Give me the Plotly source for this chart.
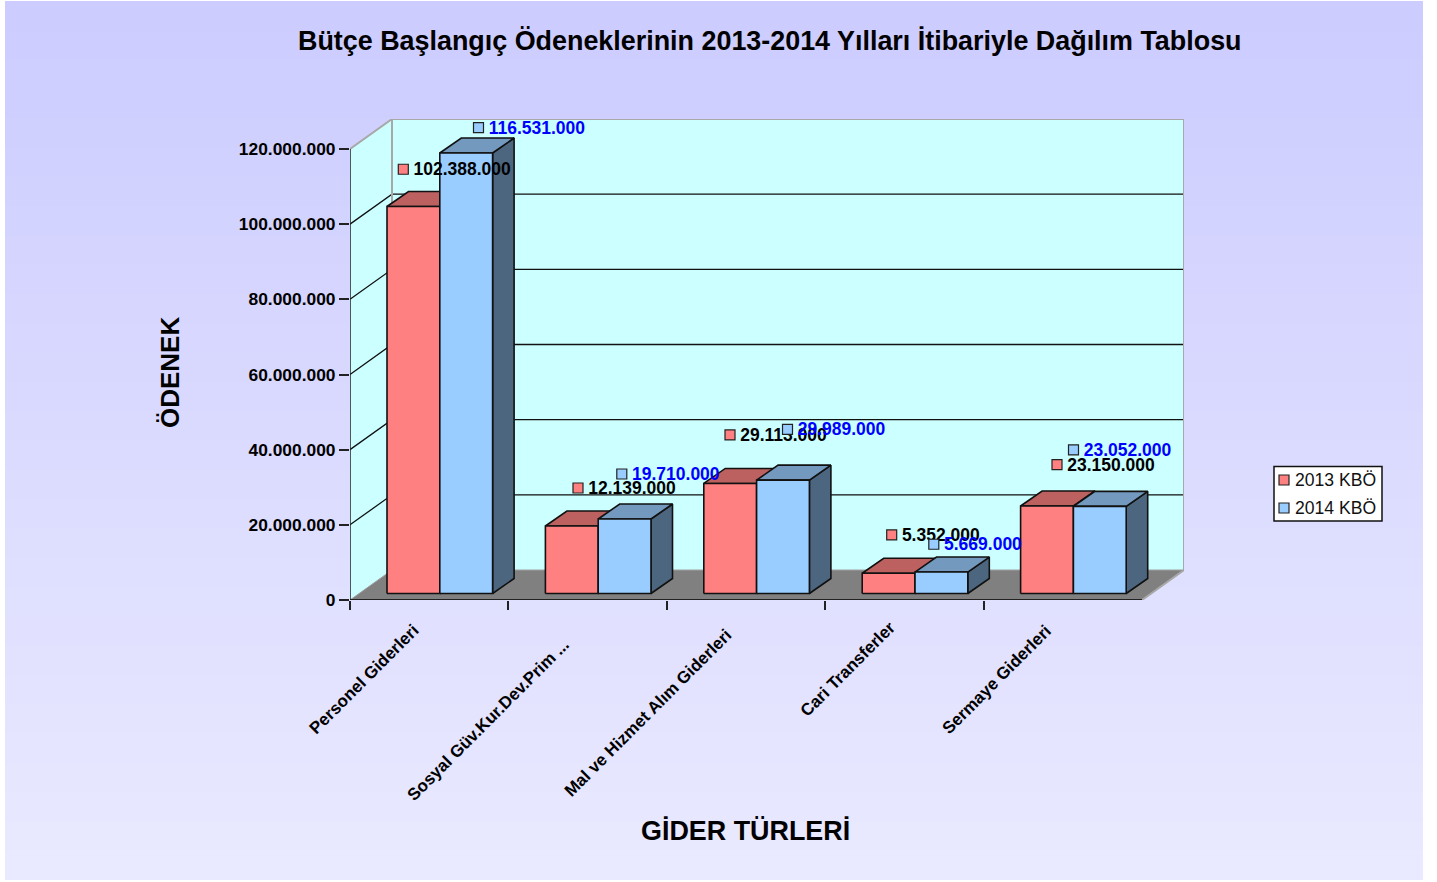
import plotly.graph_objects as go

# ---------- data ----------
CATEGORIES = ["Personel Giderleri", "Sosyal Güv.Kur.Dev.Prim ...", "Mal ve Hizmet Alım Giderleri",
              "Cari Transferler", "Sermaye Giderleri"]
VALUES_2013 = [102388000, 17860000, 29113000, 5352000, 23150000]
VALUES_2014 = [116531000, 19710000, 29989000, 5669000, 23052000]
LABELS_2013 = ["102.388.000", "12.139.000", "29.113.000", "5.352.000", "23.150.000"]
LABELS_2014 = ["116.531.000", "19.710.000", "29.989.000", "5.669.000", "23.052.000"]
Y_TICKS = [0, 20000000, 40000000, 60000000, 80000000, 100000000, 120000000]
Y_TICK_LABELS = ["0", "20.000.000", "40.000.000", "60.000.000", "80.000.000", "100.000.000", "120.000.000"]
SERIES_NAMES = ["2013 KBÖ", "2014 KBÖ"]

# ---------- layout constants (pixels) ----------
W, H = 1437, 882
PLOT_L, PLOT_R, PLOT_T, PLOT_B = 350, 1184, 119, 600
CAT_PX = 158.4
PX_PER_VALUE = 451 / 120e6
WALL_DX, WALL_DY = 42, 30
BAR_LEFT, BAR_W, BAR_DX, BAR_DY, BAR_BASE = 37, 52.8, 21.5, 15, 6.5
BAR_SCALE = 3.78 / (PX_PER_VALUE * 1e6)
# data-label offset from the top-left front corner of each bar
OFFS_2013 = [(16.3, -37.2), (32.6, -38), (26.2, -48.5), (29.5, -38.3), (36.4, -41.3)]
OFFS_2014 = [(38.7, -25.3), (23.6, -45), (30.9, -50.8), (18.8, -27.8), (0.1, -56.4)]
LABEL_TEXT_DX, LABEL_TEXT_DY = 10.2, 1.5
# centre of each rotated category label: x offset from the category centre, y from the page top
CAT_LABEL_DX = [-65.2, -100.1, -98.5, -56.9, -65.8]
CAT_LABEL_Y = [679.5, 720, 713, 669.5, 679.5]

FONT = "Liberation Sans"
INK = "#111111"
N = len(CATEGORIES)
ux = lambda px: px / CAT_PX            # pixels -> category units
uy = lambda px: px / PX_PER_VALUE      # pixels -> value units
D_X, D_Y = ux(WALL_DX), uy(WALL_DY)
TOP = Y_TICKS[-1]
px_x = lambda px: px / W
px_y = lambda px: 1 - px / H

fig = go.Figure()


def poly(xs, ys, fill, line=None, width=0, name=None):
    fig.add_trace(go.Scatter(x=xs, y=ys, mode="lines", fill="toself", fillcolor=fill,
                             line=dict(color=line or fill, width=width), hoverinfo="skip",
                             showlegend=False, name=name, cliponaxis=False))


def lines(xs, ys, color, width):
    fig.add_trace(go.Scatter(x=xs, y=ys, mode="lines", line=dict(color=color, width=width),
                             hoverinfo="skip", showlegend=False, cliponaxis=False))


# walls + floor
poly([D_X, N + D_X, N + D_X, D_X, D_X], [D_Y, D_Y, TOP + D_Y, TOP + D_Y, D_Y], "#ccffff")
poly([0, D_X, D_X, 0, 0], [0, D_Y, TOP + D_Y, TOP, 0], "#ccffff")
poly([0, N, N + D_X, D_X, 0], [0, 0, D_Y, D_Y, 0], "#808080")

# gridlines on back and left wall
gx, gy = [], []
for t in Y_TICKS[1:-1]:
    gx += [0, D_X, N + D_X, None]
    gy += [t, t + D_Y, t + D_Y, None]
lines(gx, gy, "#111111", 1.3)
# wall border
lines([0, D_X, N + D_X, N + D_X, N], [TOP, TOP + D_Y, TOP + D_Y, D_Y, 0], "#a8a8a8", 2)
lines([D_X, D_X], [D_Y, TOP + D_Y], "#a8a8a8", 2)
lines([0, D_X, N + D_X], [0, D_Y, D_Y], "#a0a0a0", 1)


def bars(values, slot, front, top, side, name):
    fx, fy, tx, ty, sx, sy = [], [], [], [], [], []
    bw, bdx, bdy = ux(BAR_W), ux(BAR_DX), uy(BAR_DY)
    base = uy(BAR_BASE)
    for i, v in enumerate(values):
        x0 = i + ux(BAR_LEFT) + slot * bw
        x1 = x0 + bw
        y1 = base + v * BAR_SCALE
        fx += [x0, x1, x1, x0, x0, None]
        fy += [base, base, y1, y1, base, None]
        tx += [x0, x1, x1 + bdx, x0 + bdx, x0, None]
        ty += [y1, y1, y1 + bdy, y1 + bdy, y1, None]
        sx += [x1, x1 + bdx, x1 + bdx, x1, x1, None]
        sy += [base, base + bdy, y1 + bdy, y1, base, None]
    poly(sx, sy, side, INK, 1.6, name)
    poly(tx, ty, top, INK, 1.6, name)
    poly(fx, fy, front, INK, 1.6, name)


bars(VALUES_2013, 0, "#ff8080", "#bd6060", "#bd6060", SERIES_NAMES[0])
bars(VALUES_2014, 1, "#99ccff", "#7399bf", "#4d6680", SERIES_NAMES[1])

# axis lines
lines([0, 0], [0, TOP], "#222222", 1.5)
lines([0, N], [0, 0], "#222222", 2)


def data_labels(values, labels, slot, offs, fill, color, name):
    xs, ys = [], []
    for i, v in enumerate(values):
        xs.append(i + ux(BAR_LEFT + slot * BAR_W + offs[i][0]))
        ys.append(uy(BAR_BASE) + v * BAR_SCALE - uy(offs[i][1]))
    fig.add_trace(go.Scatter(x=xs, y=ys, mode="markers",
                             marker=dict(symbol="square", size=10, color=fill, line=dict(color="#222222", width=1.2)),
                             showlegend=False, name=name, cliponaxis=False))
    fig.add_trace(go.Scatter(x=[x + ux(LABEL_TEXT_DX) for x in xs], y=[y - uy(LABEL_TEXT_DY) for y in ys],
                             mode="text", text=labels, textposition="middle right",
                             textfont=dict(family=FONT, size=17.5, color=color, weight="bold"),
                             showlegend=False, name=name, cliponaxis=False))


data_labels(VALUES_2013, LABELS_2013, 0, OFFS_2013, "#ff8080", "#000000", SERIES_NAMES[0])
data_labels(VALUES_2014, LABELS_2014, 1, OFFS_2014, "#99ccff", "#0000ff", SERIES_NAMES[1])

# page gradient: each band runs to the page bottom so no seams appear between bands
shapes = []
BG_L, BG_R, BG_T, BG_B = 5, 1423, 1, 880
STEPS = 30
for k in range(STEPS):
    a = BG_T + (BG_B - BG_T) * k / STEPS
    c = round(204 + 29 * (k + 0.5) / STEPS)
    shapes.append(dict(type="rect", xref="paper", yref="paper", layer="below",
                       x0=px_x(BG_L), x1=px_x(BG_R), y0=px_y(a), y1=px_y(BG_B),
                       fillcolor=f"rgb({c},{c},255)", line=dict(width=0)))

# legend box
shapes.append(dict(type="rect", xref="paper", yref="paper", x0=px_x(1274), x1=px_x(1382), y0=px_y(466.5), y1=px_y(521),
                   fillcolor="white", line=dict(color="#111111", width=1.5)))
annots = []
for nm, fill, cy in zip(SERIES_NAMES, ["#ff8080", "#99ccff"], [480, 508]):
    shapes.append(dict(type="rect", xref="paper", yref="paper", x0=px_x(1279), x1=px_x(1289),
                       y0=px_y(cy - 5), y1=px_y(cy + 5), fillcolor=fill, line=dict(color="#222222", width=1.2)))
    annots.append(dict(text=nm, xref="paper", yref="paper", x=px_x(1293), y=px_y(cy), xanchor="left", yanchor="middle",
                       showarrow=False, font=dict(family=FONT, size=17.6, color="#111111")))

for i, cat in enumerate(CATEGORIES):
    annots.append(dict(text=f"<b>{cat}</b>", xref="x", yref="paper", x=i + 0.5 + ux(CAT_LABEL_DX[i]),
                       y=px_y(CAT_LABEL_Y[i]), showarrow=False, textangle=-45, xanchor="center", yanchor="middle",
                       font=dict(family=FONT, size=17, color="#000000")))

annots += [
    dict(text="<b>Bütçe Başlangıç Ödeneklerinin 2013-2014 Yılları İtibariyle Dağılım Tablosu</b>",
         xref="paper", yref="paper", x=px_x(770), y=px_y(41), showarrow=False, xanchor="center", yanchor="middle",
         font=dict(family=FONT, size=26.9, color="#000000")),
    dict(text="<b>ÖDENEK</b>", xref="paper", yref="paper", x=px_x(170), y=px_y(373), showarrow=False, textangle=-90,
         xanchor="center", yanchor="middle", font=dict(family=FONT, size=26, color="#000000")),
    dict(text="<b>GİDER TÜRLERİ</b>", xref="paper", yref="paper", x=px_x(745), y=px_y(831), showarrow=False,
         xanchor="center", yanchor="middle", font=dict(family=FONT, size=26.9, color="#000000")),
]

fig.update_layout(
    width=W, height=H, margin=dict(l=0, r=0, t=0, b=0, autoexpand=False), autosize=False,
    paper_bgcolor="white", plot_bgcolor="rgba(0,0,0,0)", showlegend=False,
    shapes=shapes, annotations=annots,
    xaxis=dict(domain=[PLOT_L / W, PLOT_R / W], range=[0, (PLOT_R - PLOT_L) / CAT_PX], showgrid=False, zeroline=False,
               showline=False, tickmode="array", tickvals=list(range(N)), showticklabels=False,
               ticks="outside", ticklen=9, tickwidth=1.5, tickcolor="#222222"),
    yaxis=dict(domain=[1 - PLOT_B / H, 1 - PLOT_T / H], range=[0, (PLOT_B - PLOT_T) / PX_PER_VALUE], showgrid=False,
               zeroline=False, showline=False, tickmode="array", tickvals=Y_TICKS, ticktext=Y_TICK_LABELS,
               ticks="outside", ticklen=10, tickwidth=1.5, tickcolor="#222222",
               tickfont=dict(family=FONT, size=17.4, color="#000000", weight="bold")),
)

fig.write_html("out.html", config=dict(displayModeBar=False),
               post_script="document.body.style.margin='0';document.body.style.overflow='hidden';")
